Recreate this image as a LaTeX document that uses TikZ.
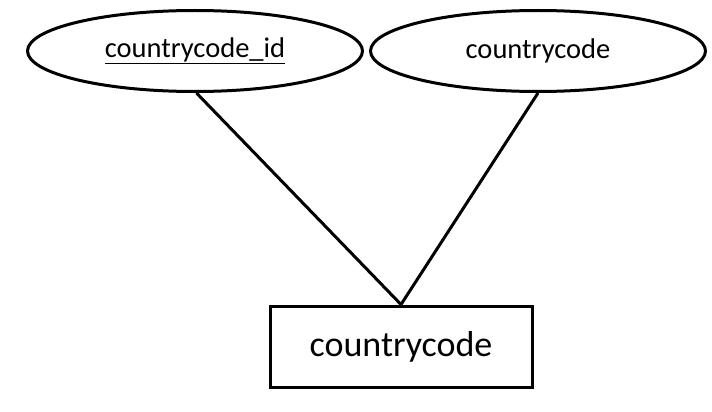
\documentclass[tikz,border=0pt]{standalone}
\usepackage{fontspec}
\setmainfont{Carlito}
\usetikzlibrary{shapes.geometric}
\begin{document}
\begin{tikzpicture}[x=1pt,y=-1pt,
  attr/.style={draw=black,line width=3pt,ellipse,minimum width=335pt,minimum height=81pt,inner sep=0pt,font=\fontsize{28.5}{34}\selectfont},
  entity/.style={draw=black,line width=3pt,rectangle,minimum width=262pt,minimum height=81pt,inner sep=0pt,font=\fontsize{36}{43}\selectfont},
  link/.style={line width=3pt}]
\useasboundingbox (0,0) rectangle (712,412);
\node[attr] (id) at (195,51) {\underline{countrycode\_id}};
\node[attr] (code) at (538,51) {countrycode};
\node[entity] (cc) at (401,346.5) {countrycode};
\draw[link] (id.-88) -- (cc.north);
\draw[link] (code.south) -- (cc.north);
\end{tikzpicture}
\end{document}
